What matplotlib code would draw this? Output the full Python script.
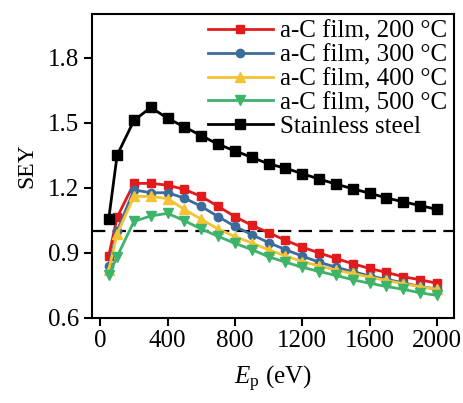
import matplotlib
matplotlib.use("Agg")
import matplotlib.pyplot as plt

plt.rcParams['font.family'] = ['Liberation Serif', 'DejaVu Serif']
plt.rcParams['mathtext.fontset'] = 'custom'
plt.rcParams['mathtext.rm'] = 'Liberation Serif'
plt.rcParams['mathtext.it'] = 'Liberation Serif:italic'

energy = [50, 100, 200, 300, 400, 500, 600, 700, 800, 900, 1000,
          1100, 1200, 1300, 1400, 1500, 1600, 1700, 1800, 1900, 2000]

sey_200 = [0.885, 1.064, 1.22, 1.22, 1.212, 1.192, 1.16, 1.114, 1.067, 1.027, 0.993,
           0.958, 0.926, 0.90, 0.874, 0.85, 0.828, 0.81, 0.79, 0.776, 0.76]
sey_300 = [0.84, 1.0, 1.19, 1.177, 1.177, 1.152, 1.114, 1.067, 1.022, 0.984, 0.947,
           0.915, 0.885, 0.857, 0.834, 0.813, 0.794, 0.778, 0.762, 0.745, 0.733]
sey_400 = [0.82, 0.987, 1.16, 1.16, 1.15, 1.10, 1.055, 1.01, 0.975, 0.946, 0.914,
           0.886, 0.86, 0.84, 0.82, 0.805, 0.788, 0.773, 0.758, 0.744, 0.732]
sey_500 = [0.796, 0.883, 1.045, 1.07, 1.082, 1.048, 1.01, 0.976, 0.944, 0.915, 0.882,
           0.857, 0.834, 0.814, 0.796, 0.776, 0.76, 0.745, 0.732, 0.716, 0.704]
sey_steel = [1.055, 1.35, 1.51, 1.57, 1.52, 1.48, 1.44, 1.40, 1.37, 1.34, 1.31,
             1.29, 1.265, 1.24, 1.217, 1.195, 1.175, 1.153, 1.135, 1.118, 1.10]

labels = ['a-C film, 200 °C', 'a-C film, 300 °C', 'a-C film, 400 °C',
          'a-C film, 500 °C', 'Stainless steel']
x_ticks = [0, 400, 800, 1200, 1600, 2000]
y_ticks = [0.6, 0.9, 1.2, 1.5, 1.8]

fig = plt.figure(figsize=(4.64, 4.03), dpi=100)
ax = fig.add_axes([0.198, 0.211, 0.780, 0.754])

series = [
    (sey_200, '#E31A1C', 's', 6),
    (sey_300, '#3B6C9C', 'o', 6),
    (sey_400, '#F5C233', '^', 6.5),
    (sey_500, '#3DB36B', 'v', 6.5),
    (sey_steel, 'black', 's', 6.5),
]
for (vals, col, mk, ms), lab in zip(series, labels):
    ax.plot(energy, vals, color=col, marker=mk, markersize=ms, linewidth=2,
            label=lab)

ax.axhline(1.0, color='black', linestyle=(0, (6, 3.3)), linewidth=1.6, zorder=1)

ax.set_xlim(-50, 2100)
ax.set_ylim(0.6, 2.0)
ax.set_xticks(x_ticks)
ax.set_yticks(y_ticks)
ax.set_yticklabels([f'{v:.1f}' for v in y_ticks])
ax.tick_params(direction='out', length=6, width=1.5, labelsize=18, pad=3)
for s in ax.spines.values():
    s.set_linewidth(1.5)

ax.set_xlabel(r'$E_\mathrm{p}$ (eV)', fontsize=18, labelpad=8)
ax.set_ylabel('SEY', fontsize=17, labelpad=8)

ax.legend(loc='upper right', frameon=False, fontsize=18, handlelength=2.6,
          handletextpad=0.3, labelspacing=0.05, borderaxespad=0.1,
          borderpad=0.15, numpoints=1)

fig.savefig('out.png', dpi=100)
